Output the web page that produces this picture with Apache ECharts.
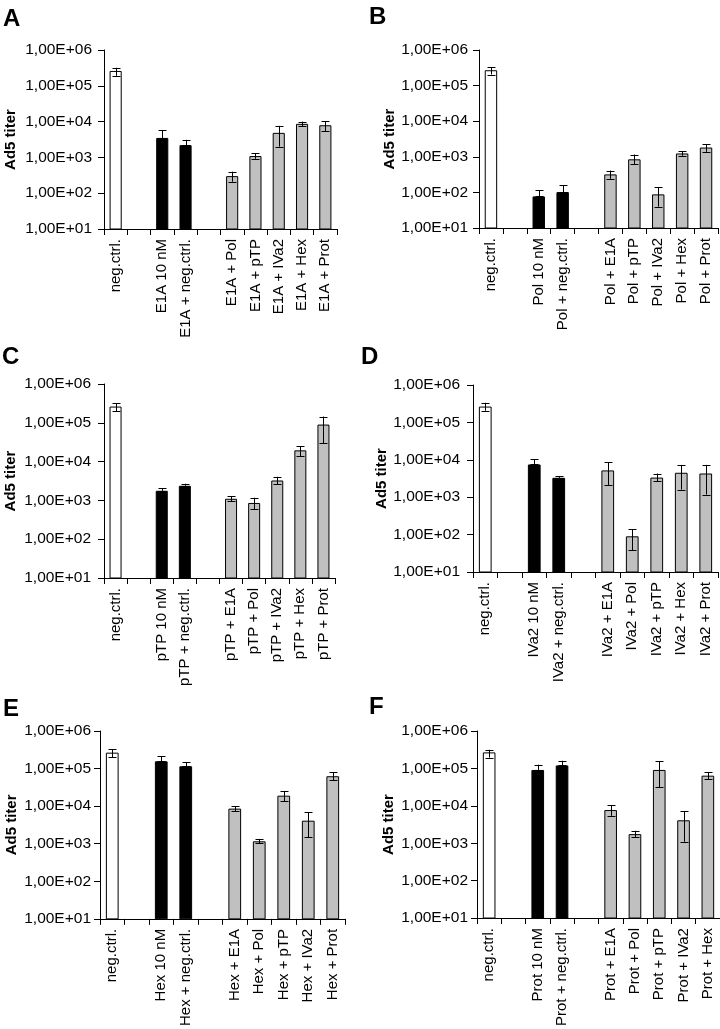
<!DOCTYPE html>
<html><head><meta charset="utf-8">
<script src="https://cdn.jsdelivr.net/npm/echarts@6/dist/echarts.min.js"></script>
<style>html,body{margin:0;padding:0;background:#fff}#c{width:720px;height:1029px}</style>
</head><body><div id="c"></div><script>
// ---- DATA ----
const yTickExponents = [1, 2, 3, 4, 5, 6];
const panelLetters = ['A', 'B', 'C', 'D', 'E', 'F'];

const labelsA = ['neg.ctrl.', ' ', 'E1A 10 nM', 'E1A + neg.ctrl.', '  ', 'E1A + Pol', 'E1A + pTP', 'E1A + IVa2', 'E1A + Hex', 'E1A + Prot'];
const valuesA = [260000, null, 3500, 2200, null, 300, 1090, 4850, 8650, 7900];
const lowA    = [190000, null, 3500, 2200, null, 210, 915, 2000, 7300, 5400];
const highA   = [320000, null, 5750, 3100, null, 400, 1290, 7600, 10000, 10300];

const labelsB = ['neg.ctrl.', ' ', 'Pol 10 nM', 'Pol + neg.ctrl.', '  ', 'Pol + E1A', 'Pol + pTP', 'Pol + IVa2', 'Pol + Hex', 'Pol + Prot'];
const valuesB = [270000, null, 77, 102, null, 320, 850, 88, 1240, 1820];
const lowB    = [205000, null, 77, 102, null, 240, 610, 40, 1070, 1380];
const highB   = [330000, null, 114, 160, null, 410, 1160, 138, 1440, 2260];

const labelsC = ['neg.ctrl.', ' ', 'pTP 10 nM', 'pTP + neg.ctrl.', '  ', 'pTP + E1A', 'pTP + Pol', 'pTP + IVa2', 'pTP + Hex', 'pTP + Prot'];
const valuesC = [262000, null, 1770, 2380, null, 1100, 860, 3260, 19500, 90000];
const lowC    = [200000, null, 1770, 2380, null, 960, 590, 2570, 13700, 30000];
const highC   = [320000, null, 2030, 2680, null, 1270, 1170, 4050, 25200, 145000];

const labelsD = ['neg.ctrl.', ' ', 'IVa2 10 nM', 'IVa2 + neg.ctrl.', '  ', 'IVa2 + E1A', 'IVa2 + Pol', 'IVa2 + pTP', 'IVa2 + Hex', 'IVa2 + Prot'];
const valuesD = [265000, null, 7500, 3300, null, 5200, 90, 3350, 4500, 4300];
const lowD    = [205000, null, 7500, 3300, null, 2100, 38, 2630, 1600, 1180];
const highD   = [335000, null, 10500, 3650, null, 8600, 140, 4300, 7300, 7300];

const labelsE = ['neg.ctrl.', ' ', 'Hex 10 nM', 'Hex + neg.ctrl.', '  ', 'Hex + E1A', 'Hex + Pol', 'Hex + pTP', 'Hex + IVa2', 'Hex + Prot'];
const valuesE = [265000, null, 156000, 115000, null, 8600, 1160, 19000, 4100, 62500];
const lowE    = [202000, null, 156000, 115000, null, 7300, 1030, 13400, 1510, 49000];
const highE   = [325000, null, 210000, 146000, null, 9900, 1340, 25200, 6900, 80000];

const labelsF = ['neg.ctrl.', ' ', 'Prot 10 nM', 'Prot + neg.ctrl.', '  ', 'Prot + E1A', 'Prot + Pol', 'Prot + pTP', 'Prot + IVa2', 'Prot + Hex'];
const valuesF = [268000, null, 91000, 120000, null, 7700, 1750, 91000, 4100, 64000];
const lowF    = [195000, null, 91000, 120000, null, 5400, 1430, 31500, 1100, 51300];
const highF   = [315000, null, 126000, 160000, null, 10300, 2150, 154000, 7100, 78700];

const panels = [
  {labels: labelsA, values: valuesA, low: lowA, high: highA},
  {labels: labelsB, values: valuesB, low: lowB, high: highB},
  {labels: labelsC, values: valuesC, low: lowC, high: highC},
  {labels: labelsD, values: valuesD, low: lowD, high: highD},
  {labels: labelsE, values: valuesE, low: lowE, high: highE},
  {labels: labelsF, values: valuesF, low: lowF, high: highF}
];

// ---- LAYOUT / STYLE ----
const grids = [
  {left: 104, top: 50, width: 233, height: 179},
  {left: 479, top: 50, width: 239, height: 178},
  {left: 104, top: 384, width: 231, height: 194},
  {left: 473, top: 385, width: 245, height: 187},
  {left: 100, top: 731, width: 245, height: 190},
  {left: 477, top: 731, width: 243, height: 188}
];
const yLabelMargin = [12, 11, 13, 13, 9, 9];
const yNameGap = [86, 81, 86, 84, 81, 81];
const letterPos = [[3, 7], [369, 5], [2, 345], [361, 345], [3, 697], [369, 695]];
const fillFor = i => i === 0 ? '#ffffff' : (i < 5 ? '#000000' : '#c0c0c0');
const FONT = 'Liberation Sans, Arial, sans-serif';

const chart = echarts.init(document.getElementById('c'), null, {renderer: 'canvas'});
const option = {
  animation: false,
  backgroundColor: '#ffffff',
  grid: grids.map(g => Object.assign({containLabel: false}, g)),
  xAxis: panels.map((p, k) => ({
    type: 'category', gridIndex: k, data: p.labels,
    axisLine: {lineStyle: {color: '#000', width: 1}},
    axisTick: {show: true, alignWithLabel: false, interval: 0, length: 6, lineStyle: {color: '#000'}},
    axisLabel: {interval: 0, rotate: 90, margin: 10, color: '#000', fontSize: 15, fontFamily: FONT},
    splitLine: {show: false}
  })),
  yAxis: panels.map((p, k) => ({
    type: 'log', logBase: 10, gridIndex: k, min: 10, max: 1000000,
    name: 'Ad5 titer', nameLocation: 'middle', nameGap: yNameGap[k],
    nameTextStyle: {fontSize: 15, fontWeight: 'bold', color: '#000', fontFamily: FONT},
    axisLine: {show: true, lineStyle: {color: '#000', width: 1}},
    axisTick: {show: true, length: 6, lineStyle: {color: '#000'}},
    axisLabel: {margin: yLabelMargin[k], color: '#000', fontSize: 15.5, fontFamily: FONT,
      formatter: v => {
        const e = Math.round(Math.log10(v));
        return yTickExponents.indexOf(e) >= 0 ? '1,00E+' + String(e).padStart(2, '0') : '';
      }},
    splitLine: {show: false},
    minorTick: {show: false}
  })),
  graphic: panelLetters.map((t, k) => ({
    type: 'text', left: letterPos[k][0], top: letterPos[k][1],
    style: {text: t, font: 'bold 24px ' + FONT, fill: '#000'}
  })),
  series: []
};

panels.forEach((p, k) => {
  option.series.push({
    type: 'bar', xAxisIndex: k, yAxisIndex: k, barWidth: '52%',
    data: p.values.map((v, i) => v == null ? null : {
      value: v,
      itemStyle: {color: fillFor(i), borderColor: '#000', borderWidth: 1}
    })
  });
  option.series.push({
    type: 'custom', xAxisIndex: k, yAxisIndex: k, z: 5,
    encode: {x: 0, y: [1, 2]},
    data: p.values.map((v, i) => v == null ? null : [i, p.low[i], p.high[i]]).filter(d => d),
    renderItem: (params, api) => {
      const x = api.value(0);
      const a = api.coord([x, api.value(1)]);
      const b = api.coord([x, api.value(2)]);
      const cx = Math.round(a[0]) + 0.5;
      const w = 4;
      const st = {stroke: '#000', lineWidth: 1};
      return {type: 'group', children: [
        {type: 'line', shape: {x1: cx, y1: a[1], x2: cx, y2: b[1]}, style: st},
        {type: 'line', shape: {x1: cx - w, y1: Math.round(b[1]) + 0.5, x2: cx + w, y2: Math.round(b[1]) + 0.5}, style: st},
        {type: 'line', shape: {x1: cx - w, y1: Math.round(a[1]) + 0.5, x2: cx + w, y2: Math.round(a[1]) + 0.5}, style: st}
      ]};
    }
  });
});

chart.setOption(option);
</script></body></html>
